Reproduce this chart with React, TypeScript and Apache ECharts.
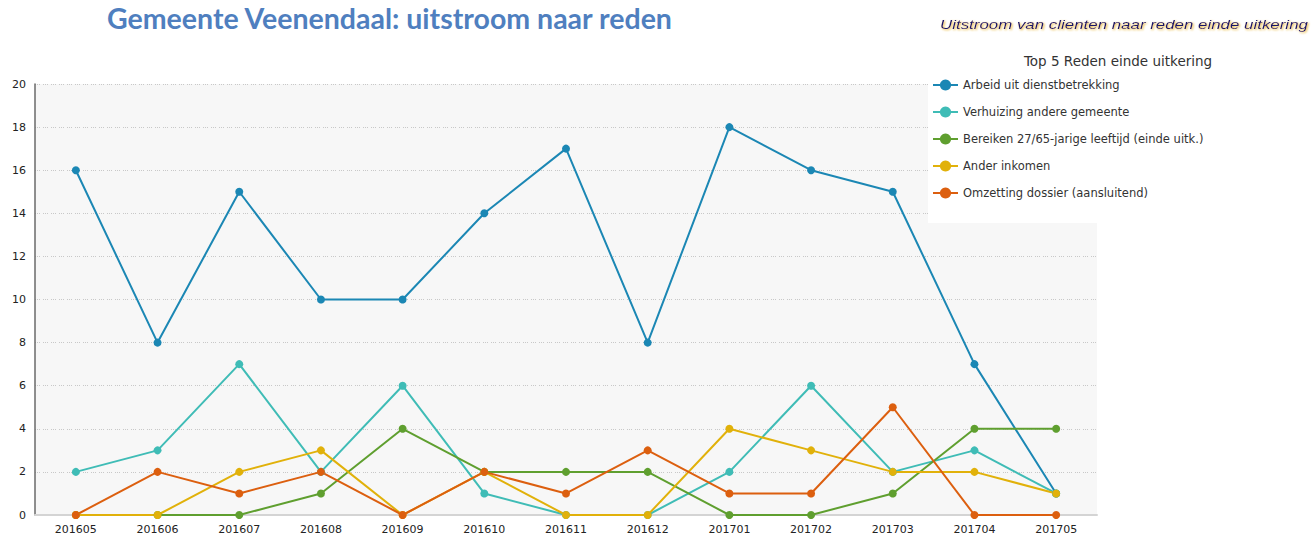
import React, { useEffect, useRef } from "react";
import * as echarts from "echarts";

const months = ["201605", "201606", "201607", "201608", "201609", "201610", "201611", "201612", "201701", "201702", "201703", "201704", "201705"];
const arbeid = [16, 8, 15, 10, 10, 14, 17, 8, 18, 16, 15, 7, 1];
const verhuizing = [2, 3, 7, 2, 6, 1, 0, 0, 2, 6, 2, 3, 1];
const bereiken = [0, 0, 0, 1, 4, 2, 2, 2, 0, 0, 1, 4, 4];
const anderInkomen = [0, 0, 2, 3, 0, 2, 0, 0, 4, 3, 2, 2, 1];
const omzetting = [0, 2, 1, 2, 0, 2, 1, 3, 1, 1, 5, 0, 0];
const seriesNames = [
  "Arbeid uit dienstbetrekking",
  "Verhuizing andere gemeente",
  "Bereiken 27/65-jarige leeftijd (einde uitk.)",
  "Ander inkomen",
  "Omzetting dossier (aansluitend)",
];
const colors = ["#1b87b4", "#3fbcb6", "#5f9f2f", "#e1b10a", "#dc5f0f"];

const mainTitle = "Gemeente Veenendaal: uitstroom naar reden";
const subTitle = "Uitstroom van clienten naar reden einde uitkering";
const legendTitle = "Top 5 Reden einde uitkering";

export default function App() {
  const ref = useRef<HTMLDivElement>(null);
  useEffect(() => {
    if (!ref.current) return;
    const chart = echarts.init(ref.current, null, { renderer: "svg" });
    const dataSets = [arbeid, verhuizing, bereiken, anderInkomen, omzetting];
    const font = "'DejaVu Sans', Verdana, sans-serif";
    chart.setOption({
      animation: false,
      backgroundColor: "#ffffff",
      color: colors,
      grid: {
        left: 35,
        right: 214,
        top: 84,
        bottom: 24,
        show: true,
        backgroundColor: "#f7f7f7",
        borderWidth: 0,
      },
      legend: {
        orient: "vertical",
        left: 932,
        top: 78,
        padding: 0,
        itemGap: 13,
        itemWidth: 25,
        itemHeight: 14,
        textStyle: { fontSize: 11.5, color: "#333", fontFamily: font, height: 14, lineHeight: 14 },
        data: seriesNames,
        z: 10,
      },
      xAxis: {
        type: "category",
        data: months,
        boundaryGap: true,
        axisLine: { show: true, lineStyle: { color: "#d4d4d4", width: 2 } },
        axisTick: { show: false },
        axisLabel: { color: "#222", fontSize: 11, fontFamily: font, margin: 9 },
        splitLine: { show: false },
      },
      yAxis: {
        type: "value",
        min: 0,
        max: 20,
        interval: 2,
        axisLine: { show: true, lineStyle: { color: "#6a6a6a", width: 1.5 } },
        axisTick: { show: false },
        axisLabel: { color: "#222", fontSize: 11, fontFamily: font, margin: 9 },
        splitLine: { show: true, lineStyle: { color: "#c8c8c8", width: 1, type: [1, 1, 1, 1, 1, 3] } },
      },
      graphic: [
        {
          type: "rect",
          z: 5,
          shape: { x: 928, y: 50, width: 383, height: 173 },
          style: { fill: "#ffffff" },
          silent: true,
        },
        {
          type: "text",
          z: 6,
          x: 107,
          y: 18,
          style: {
            text: mainTitle,
            fill: "#4f7fbf",
            font: "bold 28.5px Lato, 'Open Sans', sans-serif",
            verticalAlign: "middle",
          },
        },
        {
          type: "text",
          z: 6,
          x: 940,
          y: 24,
          scaleX: 1.3,
          style: {
            text: subTitle,
            fill: "#15156a",
            font: "italic 13px 'Liberation Sans', Arial, sans-serif",
            verticalAlign: "middle",
            textShadowColor: "#e8b020",
            textShadowBlur: 2,
            textShadowOffsetX: 1,
            textShadowOffsetY: 1,
          },
        },
        {
          type: "text",
          z: 6,
          x: 1118,
          y: 61,
          style: {
            text: legendTitle,
            fill: "#333",
            font: "13.5px 'DejaVu Sans', Verdana, sans-serif",
            align: "center",
            verticalAlign: "middle",
          },
        },
      ],
      series: seriesNames.map((name, i) => ({
        name,
        type: "line",
        data: dataSets[i],
        symbol: "circle",
        symbolSize: 8,
        lineStyle: { width: 2, color: colors[i] },
        itemStyle: { color: colors[i] },
      })),
    });
    return () => chart.dispose();
  }, []);
  return (
    <div
      ref={ref}
      style={{ position: "absolute", left: 0, top: 0, width: 1311, height: 539 }}
    />
  );
}
